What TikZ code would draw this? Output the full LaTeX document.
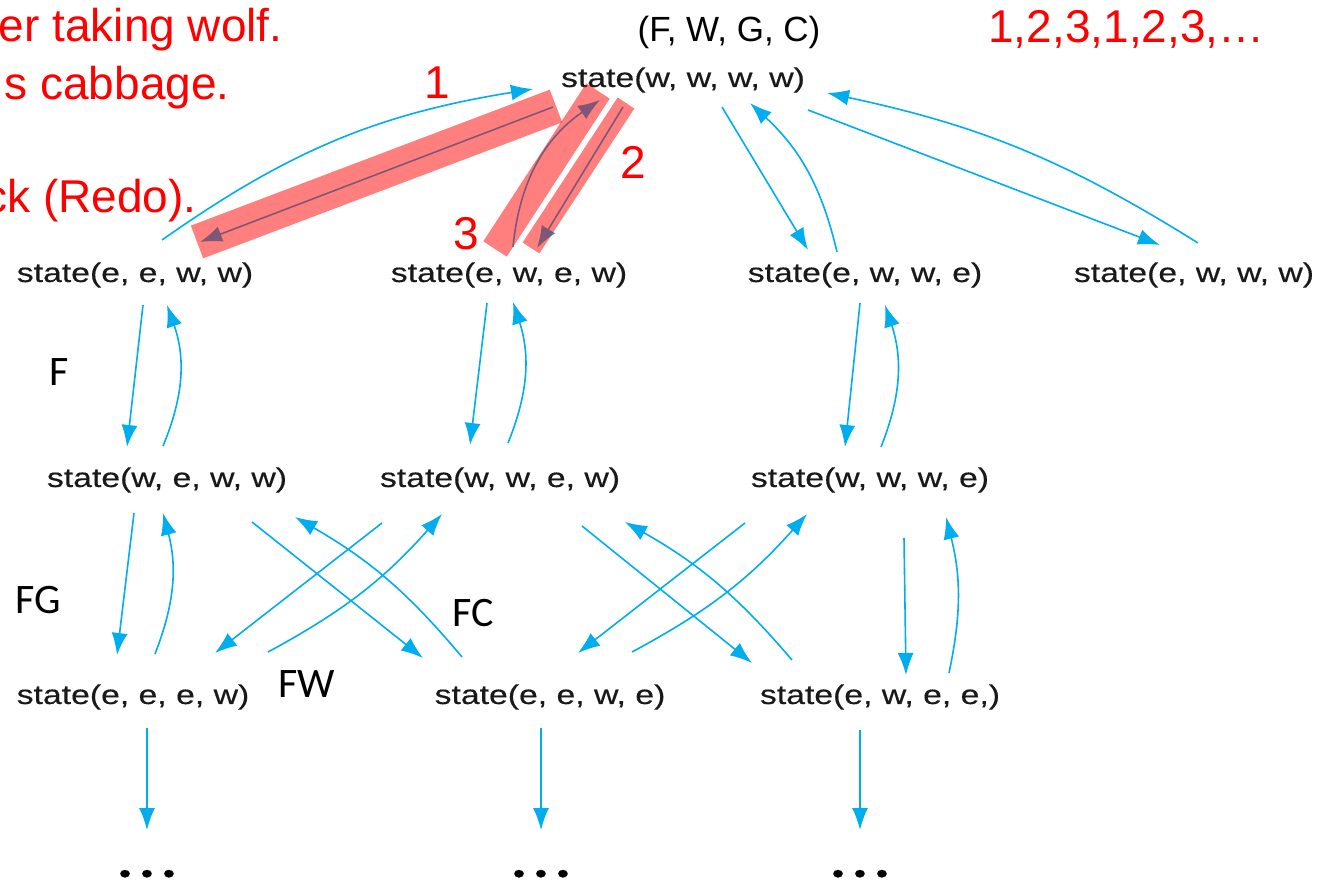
\documentclass[tikz,border=0pt]{standalone}
\usepackage{fontspec}
\setmainfont{Liberation Sans}
\newfontfamily\statefont{Liberation Sans}[FakeStretch=1.25, FakeBold=0.4]
\newfontfamily\dotsfont{Liberation Sans}[FakeStretch=1.25, FakeBold=0.4]
\newfontfamily\labelfont{Carlito}
\usetikzlibrary{arrows.meta,calc}
\definecolor{flowblue}{RGB}{0,174,239}

\tikzset{
  statenode/.style={font=\statefont\fontsize{13.5}{16}\selectfont, text=black!90, inner sep=0pt},
  dotsnode/.style={font=\dotsfont\fontsize{14}{16}\selectfont, text=black, inner sep=0pt, anchor=base},
  flow/.style={draw=flowblue, line width=0.8pt, -{Latex[length=11pt,width=8pt]}},
  redtxt/.style={font=\fontsize{23}{27}\selectfont, text=red, inner sep=0pt},
  movelabel/.style={font=\labelfont\fontsize{21}{25}\selectfont, inner sep=0pt},
  hilite/.style={draw=red, opacity=0.5, line cap=butt},
}

\begin{document}
\begin{tikzpicture}[x=0.5pt, y=0.5pt]
\useasboundingbox (0,0) rectangle (1328,-882);

% state nodes: (farmer, wolf, goat, cabbage)
\node[statenode] (top) at (683,-80)  {state(w, w, w, w)};
\node[statenode] (r1a) at (135,-275) {state(e, e, w, w)};
\node[statenode] (r1b) at (509,-275) {state(e, w, e, w)};
\node[statenode] (r1c) at (865,-275) {state(e, w, w, e)};
\node[statenode] (r1d) at (1194,-275) {state(e, w, w, w)};
\node[statenode] (r2a) at (167,-480) {state(w, e, w, w)};
\node[statenode] (r2b) at (500,-480) {state(w, w, e, w)};
\node[statenode] (r2c) at (870,-480) {state(w, w, w, e)};
\node[statenode] (r3a) at (133,-697) {state(e, e, e, w)};
\node[statenode] (r3b) at (550,-697) {state(e, e, w, e)};
\node[statenode] (r3c) at (880,-697) {state(e, w, e, e,)};
\node[dotsnode] (d1) at (147,-883) {• • •};
\node[dotsnode] (d2) at (541,-883) {• • •};
\node[dotsnode] (d3) at (860,-883) {• • •};

% header and annotations
\node[font=\fontsize{17.5}{21}\selectfont, inner sep=0pt] (hdr) at (729,-32) {(F, W, G, C)};
\node[redtxt, anchor=base west] (order) at (988,-43) {1,2,3,1,2,3,…};
\node[redtxt, anchor=base east] (note1) at (283,-42)  {er taking wolf.};
\node[redtxt, anchor=base east] (note2) at (230,-100) {s cabbage.};
\node[redtxt, anchor=base east] (note3) at (197,-213) {ck (Redo).};
\node[redtxt] (n1) at (437,-83)  {1};
\node[redtxt] (n2) at (633,-162) {2};
\node[redtxt] (n3) at (466,-234) {3};

\node[movelabel] (lF)  at (59,-372)  {F};
\node[movelabel] (lFG) at (38,-600)  {FG};
\node[movelabel] (lFC) at (473,-613) {FC};
\node[movelabel] (lFW) at (307,-684) {FW};

% top level moves
\draw[flow] ($(r1a)+(27,35)$)   to[bend left=13]  ($(top)+(-150,-9)$);
\draw[flow] ($(top)+(-130,-27)$) -- ($(r1a)+(65,33)$);
\draw[flow] ($(r1b)+(4,28)$)    to[bend left=25]  ($(top)+(-83,-20)$);
\draw[flow] ($(top)+(-60,-27)$) -- ($(r1b)+(28,27)$);
\draw[flow] ($(top)+(39,-27)$)  -- ($(r1c)+(-57,25)$);
\draw[flow] ($(r1c)+(-28,23)$)  to[bend right=17] ($(top)+(67,-23)$);
\draw[flow] ($(top)+(125,-30)$) -- ($(r1d)+(-34,30)$);
\draw[flow] ($(r1d)+(4,32)$)    to[bend right=10] ($(top)+(144,-13)$);

% first row to second row
\draw[flow] ($(r1a)+(8,-30)$)   -- ($(r2a)+(-40,33)$);
\draw[flow] ($(r2a)+(-4,34)$)   to[bend right=21] ($(r1a)+(32,-30)$);
\draw[flow] ($(r1b)+(-22,-28)$) -- ($(r2b)+(-30,35)$);
\draw[flow] ($(r2b)+(8,37)$)    to[bend right=20] ($(r1b)+(4,-27)$);
\draw[flow] ($(r1c)+(-5,-28)$)  -- ($(r2c)+(-25,33)$);
\draw[flow] ($(r2c)+(11,33)$)   to[bend right=20] ($(r1c)+(20,-30)$);

% second row to third row
\draw[flow] ($(r2a)+(-33,-33)$) -- ($(r3a)+(-16,42)$);
\draw[flow] ($(r3a)+(22,43)$)   to[bend right=18] ($(r2a)+(-4,-33)$);
\draw[flow] ($(r2a)+(85,-42)$)  -- ($(r3b)+(-127,39)$);
\draw[flow] ($(r3b)+(-88,40)$)  to[bend right=10] ($(r2a)+(128,-37)$);
\draw[flow] ($(r2b)+(-118,-43)$) -- ($(r3a)+(82,44)$);
\draw[flow] ($(r3a)+(135,45)$)  to[bend right=10] ($(r2b)+(-58,-34)$);
\draw[flow] ($(r2b)+(82,-46)$)  -- ($(r3c)+(-128,34)$);
\draw[flow] ($(r3c)+(-88,37)$)  to[bend right=10] ($(r2b)+(125,-42)$);
\draw[flow] ($(r2c)+(-125,-43)$) -- ($(r3b)+(28,44)$);
\draw[flow] ($(r3b)+(82,45)$)   to[bend right=10] ($(r2c)+(-63,-34)$);
\draw[flow] ($(r2c)+(34,-58)$)  -- ($(r3c)+(26,22)$);
\draw[flow] ($(r3c)+(69,24)$)   to[bend right=13] ($(r2c)+(76,-37)$);

% third row onwards
\draw[flow] ($(r3a)+(14,-31)$)  -- ($(d1.base)+(0,53)$);
\draw[flow] ($(r3b)+(-9,-31)$)  -- ($(d2.base)+(0,53)$);
\draw[flow] ($(r3c)+(-20,-33)$) -- ($(d3.base)+(0,53)$);

% highlighted search steps
\draw[hilite, line width=17.5pt] (197,-242) -- (556,-106);
\draw[hilite, line width=10pt]   (626,-103) -- (531,-248);
\draw[hilite, line width=14pt]   (495,-249) -- (598,-91);
\end{tikzpicture}
\end{document}
